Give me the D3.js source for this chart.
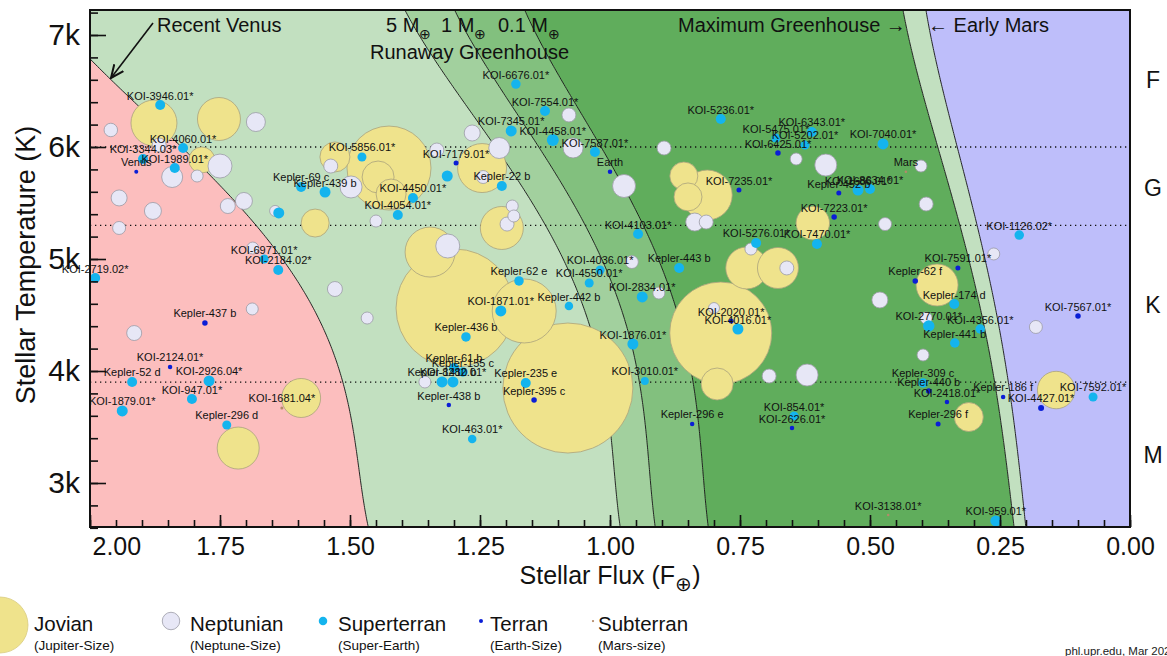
<!DOCTYPE html>
<html>
<head>
<meta charset="utf-8">
<script src="https://cdn.jsdelivr.net/npm/d3@7"></script>
<style>
  body { margin: 0; background: #fff; }
  svg { display: block; font-family: "Liberation Sans", Arial, Helvetica, sans-serif; }
</style>
</head>
<body>
<svg id="chart" width="1167" height="656"></svg>
<script>
// Habitable zone limits (Kopparapu et al. 2014): S_eff = S0 + a t + b t^2 + c t^3 + d t^4, t = Teff - 5780
const recentVenus = [1.776, 2.136e-4, 2.533e-8, -1.332e-11, -3.097e-15];
const runaway5M   = [1.188, 1.433e-4, 1.707e-8, -8.968e-12, -2.084e-15];
const runaway1M   = [1.107, 1.332e-4, 1.580e-8, -8.308e-12, -1.931e-15];
const runaway01M  = [0.990, 1.209e-4, 1.404e-8, -7.418e-12, -1.713e-15];
const maxGreenhouse = [0.356, 6.171e-5, 1.698e-9, -3.198e-12, -5.575e-16];
const earlyMars   = [0.320, 5.547e-5, 1.526e-9, -2.874e-12, -5.011e-16];

// Spectral class boundaries (K) and class labels
const spectralLimits = [6000, 5300, 3900];
const spectralClasses = ["F", "G", "K", "M"];
const spectralLabelTeff = [6600, 5635, 4590, 3250];

// Axis ticks
const fluxTicks = [2.00, 1.75, 1.50, 1.25, 1.00, 0.75, 0.50, 0.25, 0.00];
const teffTicks = [3000, 4000, 5000, 6000, 7000];

// Planets: [stellar flux (Earth = 1), stellar Teff (K), radius (Earth radii)]
const jovians = [
  [1.877, 6214, 9.2], [1.752, 6250, 8.6], [1.785, 5884, 5.2], [1.567, 5321, 5.6],
  [1.425, 5812, 16.8], [1.446, 5732, 6.4], [1.421, 5580, 6.0], [1.529, 5911, 6.0],
  [1.246, 5812, 9.8], [1.208, 5277, 8.6], [1.346, 5062, 10.0], [1.298, 4562, 23.6],
  [1.165, 4536, 12.8], [1.081, 3848, 26.0], [0.858, 5741, 5.6], [0.850, 5554, 5.6],
  [0.813, 5571, 10.0], [0.610, 5321, 6.7], [0.737, 4920, 8.4], [0.677, 4920, 8.2],
  [0.787, 4339, 20.4], [0.794, 3884, 6.4], [0.371, 4768, 8.4], [0.310, 3589, 5.8],
  [0.142, 3830, 7.5], [1.594, 3759, 7.8], [1.715, 3312, 8.4]
];

const neptunians = [
  [1.681, 6223, 3.8], [1.960, 6152, 2.7], [1.867, 6018, 2.8], [1.750, 5830, 4.8],
  [1.842, 5732, 4.2], [1.794, 5741, 2.4], [1.944, 5545, 3.2], [1.879, 5429, 3.4],
  [1.735, 5473, 3.0], [1.704, 5518, 3.4], [1.944, 5277, 2.6], [1.644, 5429, 2.2],
  [1.537, 5830, 2.8], [1.498, 5643, 4.4], [1.450, 5339, 2.4], [1.687, 5098, 2.4],
  [1.529, 4732, 3.0], [1.688, 4554, 2.4], [1.467, 4473, 2.4], [1.915, 4339, 3.0],
  [1.356, 3902, 2.4], [1.265, 6125, 3.2], [1.213, 5991, 4.2], [1.244, 5732, 2.6],
  [1.333, 5973, 2.8], [1.188, 5473, 2.4], [1.185, 5384, 2.4], [1.198, 5312, 2.8],
  [1.312, 5116, 4.8], [1.079, 6286, 2.8], [1.071, 5991, 4.0], [0.896, 5991, 2.8],
  [0.973, 5652, 4.6], [0.837, 5330, 3.6], [0.815, 5330, 2.8], [0.729, 5089, 2.4],
  [0.958, 4973, 2.6], [0.906, 4696, 2.4], [0.660, 4920, 2.8], [0.800, 4562, 2.2],
  [0.694, 3955, 2.8], [0.621, 3964, 4.4], [0.642, 5893, 2.4], [0.585, 5839, 4.4],
  [0.402, 5830, 2.4], [0.392, 5491, 2.8], [0.471, 5312, 2.6], [0.262, 5045, 2.4],
  [0.481, 4634, 3.2], [0.392, 4473, 2.4], [0.398, 4143, 2.4], [0.181, 4393, 2.6]
];

// [name, stellar flux, Teff (K), radius (Earth radii)]
const superterrans = [
  ["KOI-3946.01*", 1.865, 6375, 2.0], ["KOI-4060.01*", 1.821, 5991, 2.0],
  ["KOI-3344.03*", 1.898, 5893, 2.0], ["KOI-1989.01*", 1.837, 5812, 2.0],
  ["Kepler-69 c", 1.594, 5643, 2.0], ["Kepler-439 b", 1.548, 5598, 2.2],
  ["", 1.637, 5411, 2.2], ["KOI-5856.01*", 1.477, 5911, 1.8],
  ["KOI-4450.01*", 1.379, 5545, 2.0], ["KOI-4054.01*", 1.408, 5393, 2.0],
  ["KOI-6971.01*", 1.665, 5000, 1.8], ["KOI-2184.02*", 1.638, 4902, 2.0],
  ["KOI-2719.02*", 1.990, 4830, 2.0], ["Kepler-52 d", 1.919, 3902, 2.0],
  ["KOI-2926.04*", 1.771, 3911, 2.2], ["KOI-947.01*", 1.804, 3750, 2.0],
  ["KOI-1879.01*", 1.938, 3643, 2.2], ["Kepler-296 d", 1.737, 3518, 1.8],
  ["KOI-6676.01*", 1.181, 6562, 1.9], ["KOI-7554.01*", 1.125, 6321, 2.0],
  ["KOI-7345.01*", 1.190, 6143, 2.2], ["KOI-4458.01*", 1.110, 6062, 2.4],
  ["KOI-7587.01*", 1.029, 5955, 2.0], ["", 1.313, 5741, 2.2],
  ["Kepler-22 b", 1.208, 5652, 2.0], ["KOI-5236.01*", 0.787, 6250, 2.0],
  ["KOI-4103.01*", 0.946, 5223, 2.0], ["KOI-5276.01*", 0.719, 5143, 2.0],
  ["KOI-4036.01*", 1.019, 4902, 1.8], ["KOI-4550.01*", 1.040, 4786, 1.8],
  ["Kepler-443 b", 0.867, 4920, 2.0], ["KOI-6343.01*", 0.612, 6134, 2.0],
  ["KOI-5475.01*", 0.681, 6080, 1.8], ["KOI-5202.01*", 0.625, 6018, 1.8],
  ["KOI-7040.01*", 0.475, 6027, 2.2], ["KOI-1686.01*", 0.523, 5616, 2.2],
  ["KOI-8634.01*", 0.500, 5625, 2.0], ["KOI-7470.01*", 0.602, 5134, 2.0],
  ["KOI-1126.02*", 0.213, 5214, 1.9], ["Kepler-62 e", 1.175, 4804, 1.9],
  ["KOI-2834.01*", 0.938, 4661, 2.2], ["KOI-1871.01*", 1.210, 4536, 2.2],
  ["Kepler-442 b", 1.079, 4580, 1.7], ["Kepler-436 b", 1.277, 4304, 1.9],
  ["KOI-1876.01*", 0.956, 4241, 2.2], ["KOI-4016.01*", 0.754, 4375, 2.2],
  ["KOI-3010.01*", 0.933, 3911, 1.6], ["Kepler-235 e", 1.162, 3893, 2.0],
  ["Kepler-1410 b", 1.323, 3902, 2.2], ["KOI-8282.01*", 1.302, 3902, 2.2],
  ["Kepler-61 b", 1.300, 4027, 2.0], ["Kepler-155 c", 1.283, 3991, 1.9],
  ["KOI-463.01*", 1.265, 3393, 1.7], ["Kepler-174 d", 0.338, 4598, 2.0],
  ["KOI-2770.01*", 0.387, 4402, 2.3], ["KOI-4356.01*", 0.288, 4375, 1.9],
  ["Kepler-441 b", 0.337, 4250, 1.9], ["Kepler-309 c", 0.398, 3893, 1.9],
  ["KOI-7592.01*", 0.071, 3768, 1.8], ["KOI-854.01*", 0.646, 3598, 1.8],
  ["KOI-959.01*", 0.258, 2661, 2.2]
];

const terrans = [
  ["Venus", 1.911, 5778, 0.8], ["KOI-7179.01*", 1.296, 5857, 1.0],
  ["Earth", 1.000, 5778, 0.9], ["KOI-7235.01*", 0.752, 5616, 1.0],
  ["KOI-6425.01*", 0.677, 5946, 1.1], ["Kepler-452 b", 0.560, 5589, 1.0],
  ["KOI-7223.01*", 0.569, 5375, 1.1], ["KOI-7591.01*", 0.331, 4920, 1.0],
  ["Kepler-62 f", 0.413, 4804, 1.1], ["KOI-2020.01*", 0.767, 4446, 1.0],
  ["Kepler-437 b", 1.779, 4429, 1.1], ["KOI-2124.01*", 1.846, 4036, 0.9],
  ["Kepler-395 c", 1.146, 3741, 1.1], ["Kepler-438 b", 1.310, 3696, 0.9],
  ["Kepler-296 e", 0.842, 3527, 0.9], ["KOI-7567.01*", 0.100, 4491, 1.1],
  ["Kepler-440 b", 0.387, 3821, 1.1], ["KOI-2418.01*", 0.352, 3723, 0.9],
  ["Kepler-186 f", 0.244, 3768, 0.9], ["KOI-4427.01*", 0.171, 3670, 1.2],
  ["Kepler-296 f", 0.369, 3527, 1.0], ["KOI-2626.01*", 0.650, 3491, 0.9]
];

const subterrans = [
  ["Mars", 0.431, 5778, 0.5], ["KOI-1681.04*", 1.631, 3670, 0.6],
  ["KOI-3138.01*", 0.465, 2714, 0.5]
];

// Legend
const legendNames = ["Jovian", "Neptunian", "Superterran", "Terran", "Subterran"];
const legendNotes = ["(Jupiter-Size)", "(Neptune-Size)", "(Super-Earth)", "(Earth-Size)", "(Mars-size)"];
const legendRadius = [11.2, 3.5, 1.7, 0.8, 0.45];

// ---------------------------------------------------------------------------
const svg = d3.select("#chart");
const plot = { left: 90, right: 1130, top: 10, bottom: 527 };

const x = d3.scaleLinear().domain([2, 0]).range([plot.left, plot.right]);
const y = d3.scaleLinear().domain([3000, 7000]).range([483, 35]);
const rPx = d3.scaleLinear().domain([0, 1]).range([0, 2.5]);

const fill = {
  jovian: "#efe38c", neptunian: "#e7e7f6", superterran: "#14b4ee",
  terran: "#0a1ed6", subterran: "#b48a6a"
};

const limit = c => T => {
  const t = T - 5780;
  return c[0] + c[1] * t + c[2] * t * t + c[3] * t * t * t + c[4] * t * t * t * t;
};
const constFlux = v => () => v;
const temps = d3.range(2500, 7401, 20);

svg.append("defs").append("clipPath").attr("id", "plotClip")
  .append("rect")
  .attr("x", plot.left).attr("y", plot.top)
  .attr("width", plot.right - plot.left).attr("height", plot.bottom - plot.top);

const bg = svg.append("g").attr("clip-path", "url(#plotClip)");

// Zone fills, from hot (left) to cold (right)
const zoneBounds = [
  [constFlux(2.6), limit(recentVenus), "#fcbebe"],
  [limit(recentVenus), limit(runaway5M), "#c2e0c0"],
  [limit(runaway5M), limit(runaway1M), "#a2d09e"],
  [limit(runaway1M), limit(runaway01M), "#82c07e"],
  [limit(runaway01M), limit(maxGreenhouse), "#60ad5c"],
  [limit(maxGreenhouse), limit(earlyMars), "#c2e0c0"],
  [limit(earlyMars), constFlux(-0.2), "#bebefa"]
];

zoneBounds.forEach(([L, R, color]) => {
  bg.append("path")
    .attr("d", d3.area().y(T => y(T)).x0(T => x(L(T))).x1(T => x(R(T)))(temps))
    .attr("fill", color);
});

// Zone boundary lines
[recentVenus, runaway5M, runaway1M, runaway01M, maxGreenhouse, earlyMars].forEach(c => {
  const f = limit(c);
  bg.append("path")
    .attr("d", d3.line().x(T => x(f(T))).y(T => y(T))(temps))
    .attr("fill", "none").attr("stroke", "#111").attr("stroke-width", 0.9);
});

// Spectral class dividers
bg.selectAll("line.spec").data(spectralLimits).join("line")
  .attr("class", "spec")
  .attr("x1", plot.left).attr("x2", plot.right)
  .attr("y1", d => y(d)).attr("y2", d => y(d))
  .attr("stroke", "#111").attr("stroke-width", 1.3)
  .attr("stroke-dasharray", "1.3 3.7");

// Planets
const marks = bg.append("g");
const drawCircles = (rows, cls, stroke, sw, get) => {
  marks.append("g").selectAll("circle")
    .data(rows.slice().sort((a, b) => get(b)[2] - get(a)[2]))
    .join("circle")
    .attr("cx", d => x(get(d)[0]))
    .attr("cy", d => y(get(d)[1]))
    .attr("r", d => rPx(get(d)[2]))
    .attr("fill", fill[cls])
    .attr("stroke", stroke)
    .attr("stroke-width", sw);
};
drawCircles(jovians, "jovian", "#a9a27c", 0.8, d => d);
drawCircles(neptunians, "neptunian", "#9a9aa6", 0.8, d => d);
drawCircles(superterrans, "superterran", "none", 0, d => d.slice(1));
drawCircles(terrans, "terran", "none", 0, d => d.slice(1));
drawCircles(subterrans, "subterran", "none", 0, d => d.slice(1));

// Axes with inward ticks
const xMinor = d3.range(0, 2.001, 0.05);
svg.append("g").attr("transform", `translate(0,${plot.bottom})`)
  .call(d3.axisBottom(x).tickValues(xMinor).tickSize(-7).tickFormat(""))
  .call(g => g.select(".domain").remove());
const xAxis = svg.append("g").attr("transform", `translate(0,${plot.bottom})`)
  .call(d3.axisBottom(x).tickValues(fluxTicks).tickSize(-12).tickPadding(10).tickFormat(d3.format(".2f")))
  .call(g => g.select(".domain").remove());
xAxis.selectAll("text").attr("font-size", 25).attr("fill", "#111")
  .attr("font-family", "Liberation Sans, Arial, sans-serif");
xAxis.selectAll(".tick").filter(d => d === 2).select("text")
  .attr("text-anchor", "start").attr("dx", 2);

const yMinor = d3.range(2600, 7201, 200);
svg.append("g").attr("transform", `translate(${plot.left},0)`)
  .call(d3.axisLeft(y).tickValues(yMinor).tickSize(-8).tickFormat(""))
  .call(g => g.select(".domain").remove());
const yAxis = svg.append("g").attr("transform", `translate(${plot.left},0)`)
  .call(d3.axisLeft(y).tickValues(teffTicks).tickSize(-16).tickPadding(10).tickFormat(d => d / 1000 + "k"))
  .call(g => g.select(".domain").remove());
yAxis.selectAll("text").attr("font-size", 30).attr("fill", "#111")
  .attr("font-family", "Liberation Sans, Arial, sans-serif");
svg.selectAll(".tick line").attr("stroke", "#111").attr("stroke-width", 1.6);

// Plot frame
svg.append("rect")
  .attr("x", plot.left).attr("y", plot.top)
  .attr("width", plot.right - plot.left).attr("height", plot.bottom - plot.top)
  .attr("fill", "none").attr("stroke", "#111").attr("stroke-width", 2);

// Planet names (not clipped, so edge labels can spill past the frame)
const named = [...superterrans, ...terrans, ...subterrans].filter(d => d[0]);
svg.append("g").selectAll("text")
  .data(named).join("text")
  .attr("x", d => x(d[1]))
  .attr("y", d => y(d[2]) - 5.5)
  .attr("text-anchor", "middle")
  .attr("font-size", 11)
  .attr("fill", "#111")
  .text(d => d[0]);

// Axis titles
const xTitle = svg.append("text").attr("x", 610).attr("y", 584)
  .attr("text-anchor", "middle").attr("font-size", 25).attr("fill", "#111");
xTitle.append("tspan").text("Stellar Flux (F");
xTitle.append("tspan").attr("dy", 7).attr("font-size", 20).text("⊕");
xTitle.append("tspan").attr("dy", -7).text(")");

svg.append("text")
  .attr("transform", "translate(35,265) rotate(-90)")
  .attr("text-anchor", "middle").attr("font-size", 27).attr("fill", "#111")
  .text("Stellar Temperature (K)");

// Spectral class labels
svg.selectAll("text.cls").data(spectralClasses).join("text")
  .attr("class", "cls")
  .attr("x", 1153)
  .attr("y", (d, i) => y(spectralLabelTeff[i]) + 8)
  .attr("text-anchor", "middle").attr("font-size", 23).attr("fill", "#111")
  .text(d => d);

// Zone annotations
const ann = svg.append("g").attr("font-size", 20).attr("fill", "#111");
ann.append("text").attr("x", 157).attr("y", 32).text("Recent Venus");

svg.append("defs").append("marker")
  .attr("id", "arrowHead").attr("viewBox", "0 0 10 10")
  .attr("refX", 9).attr("refY", 5).attr("markerWidth", 9).attr("markerHeight", 9)
  .attr("orient", "auto")
  .append("path").attr("d", "M0,1 L9,5 L0,9").attr("fill", "none")
  .attr("stroke", "#111").attr("stroke-width", 1.4);
svg.append("line")
  .attr("x1", 153).attr("y1", 23).attr("x2", 111).attr("y2", 78)
  .attr("stroke", "#111").attr("stroke-width", 1.6)
  .attr("marker-end", "url(#arrowHead)");

const massLabels = [["5 M", 386], ["1 M", 441], ["0.1 M", 498]];
massLabels.forEach(([t, px]) => {
  const el = ann.append("text").attr("x", px).attr("y", 32);
  el.append("tspan").text(t);
  el.append("tspan").attr("dy", 7).attr("font-size", 14).text("⊕");
});
ann.append("text").attr("x", 370).attr("y", 59).text("Runaway Greenhouse");
ann.append("text").attr("x", 678).attr("y", 32).text("Maximum Greenhouse →");
ann.append("text").attr("x", 928).attr("y", 32).text("← Early Mars");

// Legend
const legendX = [0, 171, 323, 481, 593];
const legendTextX = [34, 190, 338, 490, 598];
const lg = svg.append("g");
const legendFill = [fill.jovian, fill.neptunian, fill.superterran, fill.terran, fill.subterran];
legendNames.forEach((name, i) => {
  lg.append("circle")
    .attr("cx", legendX[i]).attr("cy", i === 0 ? 625 : 621)
    .attr("r", rPx(legendRadius[i]))
    .attr("fill", legendFill[i])
    .attr("stroke", i === 0 ? "#d8cc80" : i === 1 ? "#9a9aa6" : "none")
    .attr("stroke-width", 0.8);
  lg.append("text").attr("x", legendTextX[i]).attr("y", 631)
    .attr("font-size", 20.5).attr("fill", "#111").text(name);
  lg.append("text").attr("x", legendTextX[i]).attr("y", 650)
    .attr("font-size", 13.5).attr("fill", "#111").text(legendNotes[i]);
});

svg.append("text").attr("x", 1065).attr("y", 655)
  .attr("font-size", 11.5).attr("fill", "#222").text("phl.upr.edu, Mar 2020");
</script>
</body>
</html>
